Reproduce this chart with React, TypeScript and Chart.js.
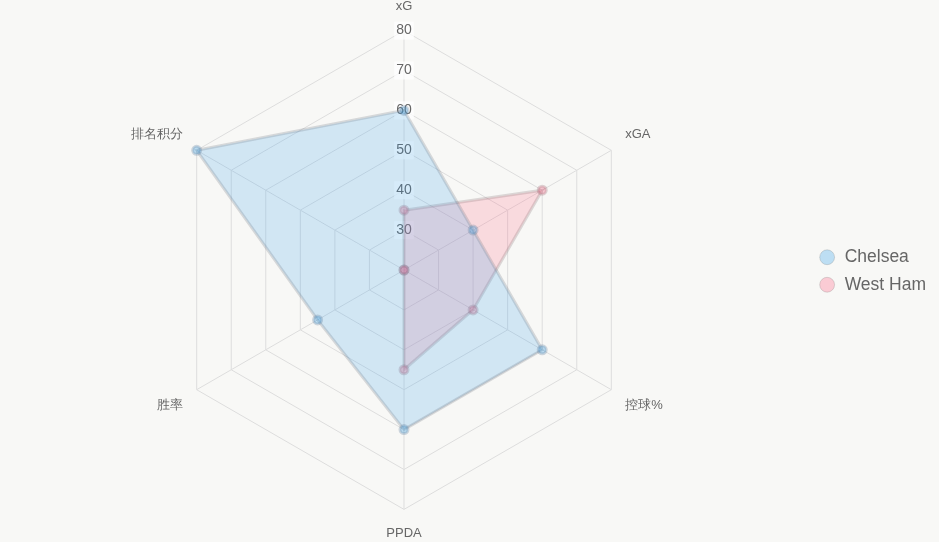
import React, { useEffect, useRef } from "react";
import { Chart, registerables } from "chart.js";

Chart.register(...registerables);

const labels = ["xG", "xGA", "控球%", "PPDA", "胜率", "排名积分"];
const chelsea = [60, 40, 60, 60, 45, 80];
const westHam = [35, 60, 40, 45, 20, 20];

export default function App() {
  const ref = useRef<HTMLCanvasElement>(null);
  useEffect(() => {
    const chart = new Chart(ref.current!, {
      type: "radar",
      data: {
        labels,
        datasets: [
          {
            label: "Chelsea",
            data: chelsea,
            backgroundColor: "rgba(54,162,235,0.2)",
            borderColor: "rgba(110,120,130,0.25)",
            borderWidth: 3,
            pointBackgroundColor: "rgba(54,162,235,0.3)",
            pointBorderColor: "rgba(100,130,160,0.3)",
            pointRadius: 4,
          },
          {
            label: "West Ham",
            data: westHam,
            backgroundColor: "rgba(255,99,132,0.2)",
            borderColor: "rgba(130,110,115,0.25)",
            borderWidth: 3,
            pointBackgroundColor: "rgba(255,99,132,0.3)",
            pointBorderColor: "rgba(160,110,120,0.3)",
            pointRadius: 4,
          },
        ],
      },
      options: {
        animation: false,
        responsive: true,
        maintainAspectRatio: false,
        layout: { padding: { right: 3, left: -4 } },
        plugins: {
          legend: {
            position: "right",
            labels: {
              usePointStyle: true,
              pointStyle: "circle",
              boxWidth: 17.5,
              boxHeight: 10.5,
              color: "#666",
              font: { size: 17.5, family: "Liberation Sans, Arial, sans-serif" },
              generateLabels: (c: any) => {
                const items = Chart.defaults.plugins.legend.labels.generateLabels(c);
                items.forEach((it: any) => {
                  it.lineWidth = 1;
                  it.strokeStyle = "rgba(120,120,120,0.25)";
                });
                return items;
              },
            },
          },
          tooltip: { enabled: false },
        },
        scales: {
          r: {
            min: 20,
            max: 80,
            ticks: {
              stepSize: 10,
              color: "#666",
              font: { size: 14, family: "Liberation Sans, Arial, sans-serif" },
              backdropColor: "rgba(255,255,255,0.75)",
            },
            grid: { color: "#ddd" },
            angleLines: { color: "#ddd" },
            pointLabels: {
              color: "#666",
              padding: 7,
              font: { size: 13, family: "Liberation Sans, Arial, sans-serif" },
            },
          },
        },
      },
    });
    return () => chart.destroy();
  }, []);
  return (
    <div style={{ position: "fixed", inset: 0, background: "#f8f8f6" }}>
      <canvas ref={ref} />
    </div>
  );
}
